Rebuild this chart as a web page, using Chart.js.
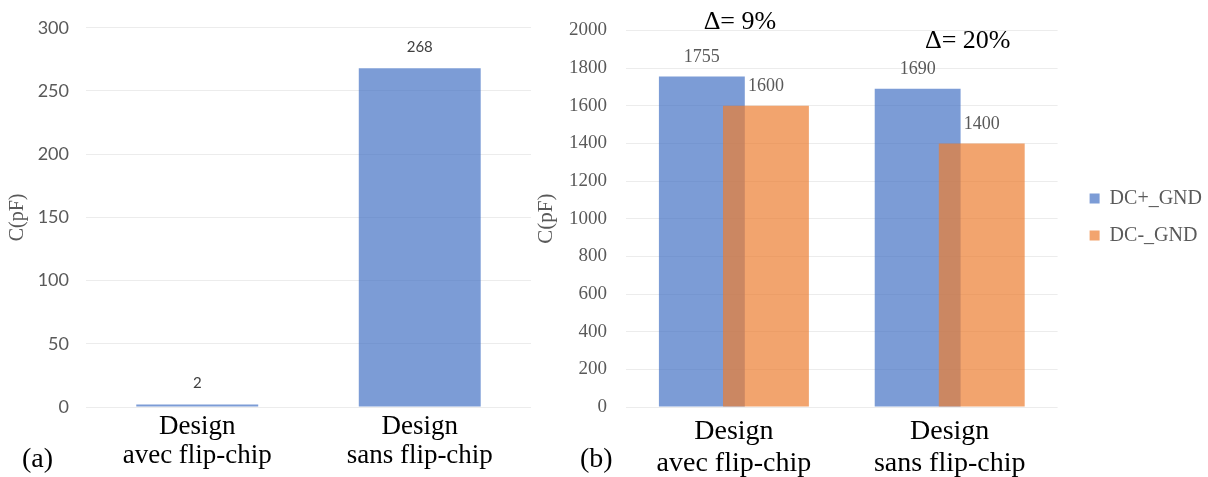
<!DOCTYPE html>
<html>
<head>
<meta charset="utf-8">
<script src="https://cdn.jsdelivr.net/npm/chart.js@4.4.1/dist/chart.umd.min.js"></script>
<style>
  body { margin: 0; background: #fff; width: 1208px; height: 477px; overflow: hidden; position: relative; }
  #wrapA { position: absolute; left: 0; top: 0; }
  #wrapB { position: absolute; left: 530px; top: 0; }
  .tag { position: absolute; top: 444px; font: 28px/27px 'Liberation Serif', serif; color: #000; }
</style>
</head>
<body>
<div id="wrapA"><canvas id="chartA" width="560" height="477"></canvas></div>
<div id="wrapB"><canvas id="chartB" width="678" height="477"></canvas></div>
<div class="tag" style="left:22px">(a)</div>
<div class="tag" style="left:580px">(b)</div>
<script>
// data
var categories = [["Design", "avec flip-chip"], ["Design", "sans flip-chip"]];
var valuesA = [2, 268];
var seriesB = ["DC+_GND", "DC-_GND"];
var dcPlus = [1755, 1690];
var dcMinus = [1600, 1400];
var deltas = ["\u0394= 9%", "\u0394= 20%"];

var blue = "rgba(68, 114, 196, 0.7)";
var orange = "rgba(237, 125, 49, 0.7)";
var grey = "#595959";
var serif = "'Liberation Serif', 'Times New Roman', serif";

// draw datasets in index order so the orange bars sit on top of the blue ones
var drawInOrder = {
  id: "drawInOrder",
  beforeDatasetsDraw: function(chart) {
    chart.getSortedVisibleDatasetMetas().forEach(function(meta) {
      meta.controller.draw();
    });
    return false;
  }
};

// value above each bar
var valueLabels = {
  id: "valueLabels",
  afterDraw: function(chart, args, opts) {
    var ctx = chart.ctx;
    ctx.save();
    ctx.font = opts.font;
    ctx.fillStyle = opts.color;
    ctx.textAlign = "center";
    ctx.textBaseline = "middle";
    chart.data.datasets.forEach(function(ds, i) {
      chart.getDatasetMeta(i).data.forEach(function(bar, j) {
        ctx.fillText(ds.data[j], bar.x, bar.y - opts.offset);
      });
    });
    ctx.restore();
  }
};

// "delta" notes over each group
var deltaShift = [[6, -54], [18, -48]];
var deltaLabels = {
  id: "deltaLabels",
  afterDraw: function(chart) {
    var ctx = chart.ctx;
    var xs = chart.scales.x, ys = chart.scales.y;
    ctx.save();
    ctx.font = "26px " + serif;
    ctx.fillStyle = "#000";
    ctx.textAlign = "center";
    ctx.textBaseline = "middle";
    deltas.forEach(function(t, i) {
      var top = ys.getPixelForValue(Math.max(dcPlus[i], dcMinus[i]));
      ctx.fillText(t, xs.getPixelForValue(i) + deltaShift[i][0], top + deltaShift[i][1]);
    });
    ctx.restore();
  }
};

// push the legend a bit away from the plot and up
var legendShift = {
  id: "legendShift",
  afterLayout: function(chart) {
    if (chart.legend) {
      chart.legend.left += 15;
      chart.legend.right += 15;
      chart.legend.top -= 36;
      chart.legend.bottom -= 36;
    }
  }
};

function plainNumber(v) { return String(v); }

/* (a) */
new Chart(document.getElementById("chartA"), {
  type: "bar",
  data: {
    labels: categories,
    datasets: [{
      data: valuesA,
      backgroundColor: blue,
      categoryPercentage: 1,
      barPercentage: 0.548
    }]
  },
  options: {
    responsive: false,
    animation: false,
    layout: { padding: { top: 27, right: 29, left: 0, bottom: 0 } },
    plugins: {
      legend: { display: false },
      tooltip: { enabled: false },
      valueLabels: { font: "15px Lato", color: "#404040", offset: 21 }
    },
    scales: {
      x: {
        grid: { display: false, drawTicks: false },
        border: { display: false },
        ticks: { color: "#000", padding: 6, font: { family: serif, size: 27, lineHeight: 1.06 } },
        afterFit: function(s) { s.height = 70; }
      },
      y: {
        min: 0, max: 300,
        ticks: { stepSize: 50, color: grey, padding: 17, font: { family: "Lato", size: 18 }, callback: plainNumber },
        grid: { color: "#ececec", drawTicks: false },
        border: { display: false },
        title: { display: true, text: "C(pF)", color: grey, font: { family: serif, size: 20 }, padding: { top: 6, bottom: 0 } },
        afterFit: function(s) { s.width = 86; }
      }
    }
  },
  plugins: [valueLabels]
});

/* (b) */
new Chart(document.getElementById("chartB"), {
  type: "bar",
  data: {
    labels: categories,
    datasets: [
      { label: seriesB[0], data: dcPlus, backgroundColor: blue, categoryPercentage: 0.594, barPercentage: 1.34 },
      { label: seriesB[1], data: dcMinus, backgroundColor: orange, categoryPercentage: 0.594, barPercentage: 1.34 }
    ]
  },
  options: {
    responsive: false,
    animation: false,
    layout: { padding: { top: 29, right: 11, left: 0, bottom: 0 } },
    plugins: {
      legend: {
        position: "right",
        labels: { boxWidth: 10, boxHeight: 10, padding: 17, color: grey, font: { family: serif, size: 20 } }
      },
      tooltip: { enabled: false },
      valueLabels: { font: "18px " + serif, color: grey, offset: 19.5 }
    },
    scales: {
      x: {
        grid: { display: false, drawTicks: false },
        border: { display: false },
        ticks: { color: "#000", padding: 8, font: { family: serif, size: 28, lineHeight: 1.16 } },
        afterFit: function(s) { s.height = 70; }
      },
      y: {
        min: 0, max: 2000,
        ticks: { stepSize: 200, color: grey, padding: 19, font: { family: serif, size: 19 }, callback: plainNumber },
        grid: { color: "#ececec", drawTicks: false },
        border: { display: false },
        title: { display: true, text: "C(pF)", color: grey, font: { family: serif, size: 21 }, padding: { top: 4, bottom: 0 } },
        afterFit: function(s) { s.width = 96; }
      }
    }
  },
  plugins: [drawInOrder, valueLabels, deltaLabels, legendShift]
});
</script>
</body>
</html>
